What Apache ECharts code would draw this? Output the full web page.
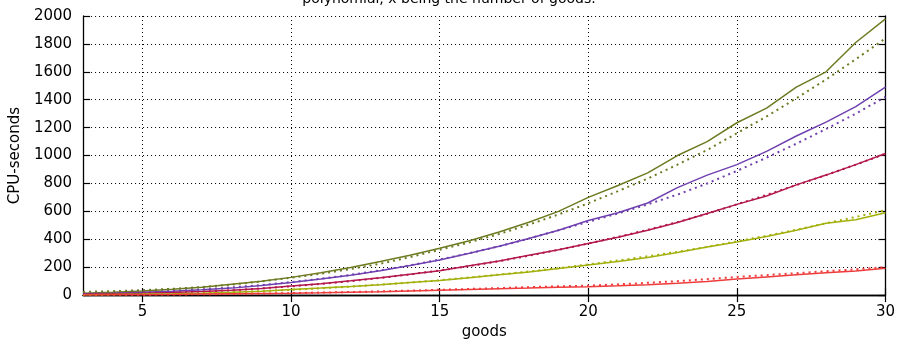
<!DOCTYPE html>
<html><head><meta charset="utf-8">
<script src="https://cdn.jsdelivr.net/npm/echarts@6/dist/echarts.min.js"></script>
<style>html,body{margin:0;padding:0;background:#fff}#c{width:898px;height:345px}</style>
</head><body><div id="c"></div>
<script>
const goods = [3,4,5,6,7,8,9,10,11,12,13,14,15,16,17,18,19,20,21,22,23,24,25,26,27,28,29,30];
const xTicks = [5,10,15,20,25,30];
const olive = [14,20,30,42,57,78,100,127,160,198,240,285,335,390,452,522,600,700,785,876,1000,1100,1235,1340,1490,1600,1810,1980];
const oliveFit = [23,28,35,45,58,75,98,124,153,187,225,272,325,378,438,505,578,658,745,835,935,1040,1160,1280,1410,1545,1690,1840];
const purple = [10,14,20,28,38,50,68,90,115,143,175,212,252,300,350,405,465,535,590,660,770,860,935,1030,1140,1240,1350,1490];
const purpleFit = [10,15,21,30,41,55,72,93,117,145,177,213,255,300,350,405,465,525,585,650,720,800,890,985,1085,1190,1300,1420];
const crimson = [6,9,13,19,26,35,48,65,82,102,125,150,175,210,245,285,325,370,415,465,520,585,650,710,790,860,935,1015];
const crimsonFit = [5,8,12,18,25,35,48,63,80,100,123,148,177,208,243,282,325,370,417,468,523,583,650,718,788,860,935,1012];
const yg = [3,5,7,10,14,20,28,40,50,62,75,90,105,125,145,165,190,215,240,270,305,345,380,420,465,515,540,590];
const ygFit = [3,5,7,10,14,20,28,38,49,61,75,90,107,126,147,169,193,220,248,278,310,345,385,425,468,515,560,608];
const red = [1,2,3,5,7,9,11,13,16,20,24,29,35,40,45,50,56,60,67,75,85,98,115,130,145,160,172,193];
const redFit = [1,2,3,4,6,8,11,14,18,22,27,32,38,44,50,57,63,68,77,88,100,114,130,143,157,171,185,200];
const titleText = 'polynomial, x being the number of goods.';

const font = 'DejaVu Sans';
const pair = (arr) => goods.map((g,i)=>[g,arr[i]]);
function solid(name, arr, color){
  return {name, type:'line', data:pair(arr), showSymbol:false, symbol:'none',
    lineStyle:{color, width:1.5}, itemStyle:{color}, z:3, animation:false};
}
function dotted(name, arr, color){
  return {name, type:'line', data:pair(arr), showSymbol:false, symbol:'none',
    lineStyle:{color, width:2, type:[2,4]}, itemStyle:{color}, z:2, animation:false};
}
const C = {olive:'#6e7a22', purple:'#7040b0', crimson:'#b3174e', yg:'#a3b00b', red:'#ee3b3b'};
const chart = echarts.init(document.getElementById('c'));
const axisLine = {show:true, lineStyle:{color:'#000', width:1.3}};
chart.setOption({
  animation:false,
  graphic:[{type:'text', left:'center', top:-8, style:{text:titleText, font:'14px "DejaVu Sans"', fill:'#000'}}],
  grid:{left:83, right:11, top:16, bottom:46},
  xAxis:[{type:'value', min:3, max:30, position:'bottom',
    name:'goods', nameLocation:'middle', nameGap:29, nameTextStyle:{fontFamily:font, fontSize:15, color:'#000'},
    axisLine, axisTick:{inside:true, length:7, customValues:xTicks, lineStyle:{color:'#000', width:1.2}},
    axisLabel:{customValues:xTicks, fontFamily:font, fontSize:15, color:'#000', margin:10},
    splitLine:{show:true, lineStyle:{color:'#000', width:1, type:[1,3]}}},
   {type:'value', min:3, max:30, position:'top',
    axisLine, axisTick:{inside:true, length:7, customValues:xTicks, lineStyle:{color:'#000', width:1.2}},
    axisLabel:{show:false}, splitLine:{show:false}}],
  yAxis:[{type:'value', min:0, max:2000, interval:200, position:'left',
    name:'CPU-seconds', nameLocation:'middle', nameGap:56, nameRotate:90, nameTextStyle:{fontFamily:font, fontSize:15, color:'#000'},
    axisLine, axisTick:{inside:true, length:7, lineStyle:{color:'#000', width:1.2}},
    axisLabel:{fontFamily:font, fontSize:15, color:'#000', margin:11, formatter:(v)=>String(v)},
    splitLine:{show:true, lineStyle:{color:'#000', width:1, type:[1,3]}}},
   {type:'value', min:0, max:2000, interval:200, position:'right',
    axisLine, axisTick:{inside:true, length:7, lineStyle:{color:'#000', width:1.2}},
    axisLabel:{show:false}, splitLine:{show:false}}],
  series:[
    dotted('oliveFit', oliveFit, C.olive), solid('olive', olive, C.olive),
    dotted('purpleFit', purpleFit, C.purple), solid('purple', purple, C.purple),
    dotted('crimsonFit', crimsonFit, C.crimson), solid('crimson', crimson, C.crimson),
    dotted('ygFit', ygFit, C.yg), solid('yg', yg, C.yg),
    dotted('redFit', redFit, C.red), solid('red', red, C.red)
  ]
});
</script></body></html>
